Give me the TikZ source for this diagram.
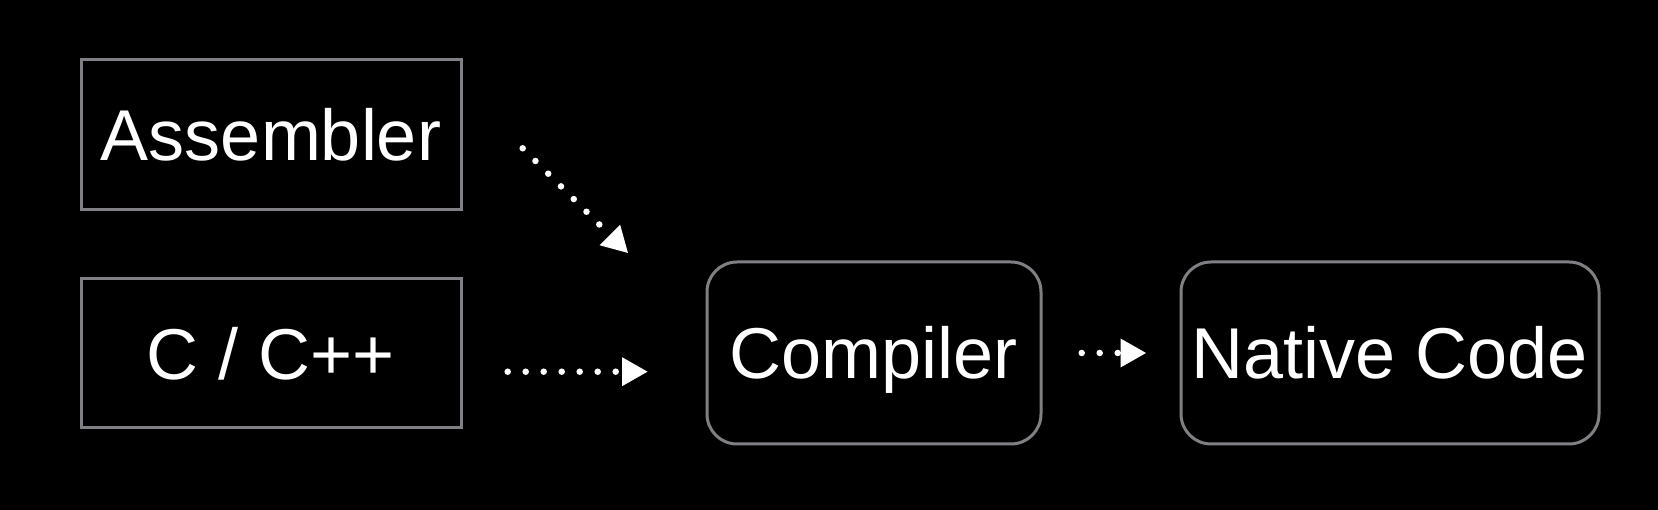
\documentclass[tikz,border=0pt]{standalone}
\usepackage{fontspec}
\setmainfont{Liberation Sans}
\usetikzlibrary{arrows.meta}
\definecolor{boxgray}{RGB}{128,128,132}

\begin{document}
\begin{tikzpicture}[x=1pt,y=1pt,
  box/.style={draw=boxgray, line width=3pt, text=white, font=\fontsize{72}{80}\selectfont, inner sep=0pt, text height=52pt, text depth=0pt},
  dots/.style={white, line width=6.5pt, line cap=round, dash pattern=on 0pt off 18pt, -{Triangle[length=26pt,width=27pt]}}]
\fill[black] (0,0) rectangle (1658,510);
\useasboundingbox (0,0) rectangle (1658,510);
\node[box, minimum width=380, minimum height=150] (asm) at (271,375) {Assembler};
\node[box, minimum width=380, minimum height=149] (cpp) at (271,156.5) {C / C++};
\node[box, rounded corners=30pt, minimum width=334, minimum height=182] (comp) at (874,157) {Compiler};
\node[box, rounded corners=30pt, minimum width=418, minimum height=182] (nat) at (1390,157) {Native Code};
\coordinate (asmout) at (522.7,361.7);
\coordinate (compin) at (628.3,256.7);
\coordinate (cppout) at (507.7,138.3);
\coordinate (cppin) at (648,138.3);
\coordinate (compout) at (1081.7,157);
\coordinate (natin) at (1146.5,157);
\draw[dots] (asmout) -- (compin);
\draw[dots] (cppout) -- (cppin);
\draw[dots] (compout) -- (natin);
\end{tikzpicture}
\end{document}
